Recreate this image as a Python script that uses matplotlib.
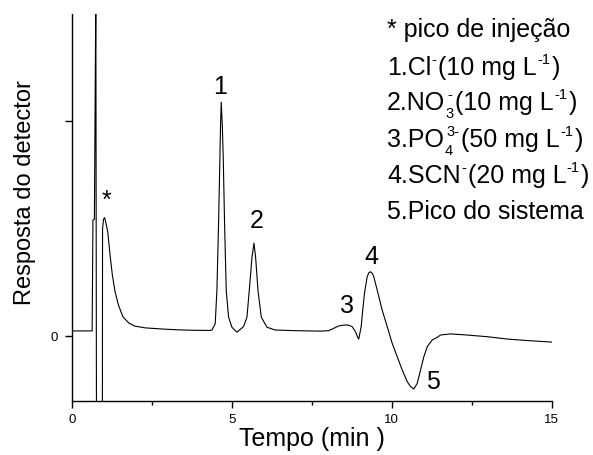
import matplotlib
matplotlib.use("Agg")
import matplotlib.pyplot as plt
from matplotlib.transforms import ScaledTranslation

plt.rcParams.update({
    "font.family": ["Liberation Sans", "DejaVu Sans"],
})

# Chromatogram trace: retention time (min) vs detector response (a.u.)
tempo = [
    0.00, 0.63, 0.655, 0.70, 0.745, 0.765, 0.950, 0.955, 0.985, 1.02, 1.05,
    1.118, 1.190, 1.262, 1.347, 1.450, 1.591, 1.78, 1.97, 2.30, 2.80, 3.30,
    3.80, 4.30, 4.375, 4.478, 4.531, 4.583, 4.625, 4.646, 4.666, 4.698, 4.729,
    4.771, 4.823, 4.896, 5.001, 5.158, 5.365, 5.471, 5.543, 5.628, 5.690,
    5.741, 5.816, 5.919, 6.097, 6.358, 7.00, 7.767, 8.027, 8.184, 8.340,
    8.450, 8.58, 8.680, 8.760, 8.863, 8.935, 8.967, 9.042, 9.092, 9.145,
    9.230, 9.28, 9.333, 9.39, 9.436, 9.543, 9.699, 9.856, 10.013, 10.169,
    10.326, 10.482, 10.586, 10.689, 10.795, 10.899, 11.002, 11.109, 11.265,
    11.422, 11.525, 11.838, 12.255, 12.988, 13.614, 14.344, 15.0,
]
resposta = [
    0.026, 0.026, 0.542, 0.545, 1.60, -0.40, -0.40, 0.50, 0.545, 0.553, 0.535,
    0.487, 0.379, 0.286, 0.208, 0.147, 0.092, 0.062, 0.048, 0.040, 0.035, 0.031,
    0.029, 0.028, 0.030, 0.059, 0.214, 0.524, 0.834, 0.989, 1.090, 0.989, 0.834,
    0.524, 0.214, 0.090, 0.043, 0.020, 0.046, 0.090, 0.214, 0.369, 0.434,
    0.369, 0.214, 0.090, 0.043, 0.030, 0.027, 0.025, 0.027, 0.038, 0.049,
    0.052, 0.054, 0.051, 0.046, 0.022, -0.004, -0.012, 0.046, 0.123, 0.201,
    0.278, 0.296, 0.301, 0.294, 0.278, 0.216, 0.123, 0.046, -0.032, -0.094,
    -0.156, -0.210, -0.233, -0.244, -0.218, -0.156, -0.094, -0.047, -0.016,
    -0.004, 0.007, 0.012, 0.008, -0.001, -0.012, -0.020, -0.026,
]

# Peak annotations (text, time, response at text baseline)
peak_labels = ["*", "1", "2", "3", "4", "5"]
peak_label_t = [1.09, 4.635, 5.78, 8.60, 9.36, 11.30]
peak_label_y = [0.598, 1.128, 0.505, 0.108, 0.337, -0.246]

# Key lines: runs of (text, kind); kind is normal, superscript, or
# subscript with a superscript stacked over it
legend_lines = [
    [("* pico de injeção", "n")],
    [("1.Cl", "n"), ("-", "sup"), ("(10 mg L", "n"), ("-1", "sup"), (")", "n")],
    [("2.NO", "n"), (("3", "-"), "subsup"), ("(10 mg L", "n"), ("-1", "sup"), (")", "n")],
    [("3.PO", "n"), (("4", "3-"), "subsup"), ("(50 mg L", "n"), ("-1", "sup"), (")", "n")],
    [("4.SCN", "n"), ("-", "sup"), ("(20 mg L", "n"), ("-1", "sup"), (")", "n")],
    [("5.Pico do sistema", "n")],
]

x_major = [0, 5, 10, 15]
x_minor = [2.5, 7.5, 12.5]
y_ticks = [0, 1]
y_ticklabels = ["0", ""]

W, H = 593, 455
DPI = 100
fig = plt.figure(figsize=(W / DPI, H / DPI), dpi=DPI)
ax = fig.add_axes([72 / W, 1 - 400.5 / H, 479.7 / W, 386.5 / H])

ax.plot(tempo, resposta, color="black", lw=0.8, solid_joinstyle="round")
ax.set_xlim(0, 15)
ax.set_ylim(-0.2977, 1.5)

for side in ("top", "right"):
    ax.spines[side].set_visible(False)
for side in ("left", "bottom"):
    ax.spines[side].set_linewidth(1.0)

ax.set_xticks(x_major)
ax.set_xticks(x_minor, minor=True)
ax.set_yticks(y_ticks)
ax.set_yticklabels(y_ticklabels)
ax.tick_params(which="major", direction="out", length=5, width=1.0,
               labelsize=9.5, pad=5)
ax.tick_params(which="minor", direction="out", length=3, width=1.0)

ax.set_xlabel("Tempo (min )", fontsize=18, va="baseline")
ax.xaxis.set_label_coords(0.5, -0.1177)
ax.set_ylabel("Resposta do detector", fontsize=17, va="center")
ax.yaxis.set_label_coords(-0.098, 0.538)

for lab, t, y in zip(peak_labels, peak_label_t, peak_label_y):
    ax.text(t, y, lab, ha="center", va="baseline", fontsize=18)

# Rich text for the key, laid out run by run in pixels
renderer = fig.canvas.get_renderer()
MAIN = 18
SMALL = 10.5
SUP_RAISE = 11.0   # px above baseline
SUB_DROP = 8.0     # px below baseline


def put(x_px, base_py, text, size, dy_px=0.0):
    off = ScaledTranslation(0, dy_px / DPI, fig.dpi_scale_trans)
    t = fig.text(x_px / W, 1 - base_py / H, text, fontsize=size,
                 ha="left", va="baseline", transform=fig.transFigure + off)
    return t.get_window_extent(renderer).width


legend_x = 387
legend_baselines = [36.7, 75, 110, 146.7, 182.7, 219.3]
for runs, py in zip(legend_lines, legend_baselines):
    x = legend_x
    for text, kind in runs:
        if kind == "n":
            x += put(x, py, text, MAIN)
        elif kind == "sup":
            x += put(x + 0.5, py, text, SMALL, SUP_RAISE) + 2.0
        else:
            sub, sup = text
            w1 = put(x + 0.5, py, sub, SMALL, -SUB_DROP)
            w2 = put(x + 2.5, py, sup, SMALL, SUP_RAISE)
            x += max(w1, w2 + 2.0) + 2.0

fig.savefig("out.png", dpi=DPI)
